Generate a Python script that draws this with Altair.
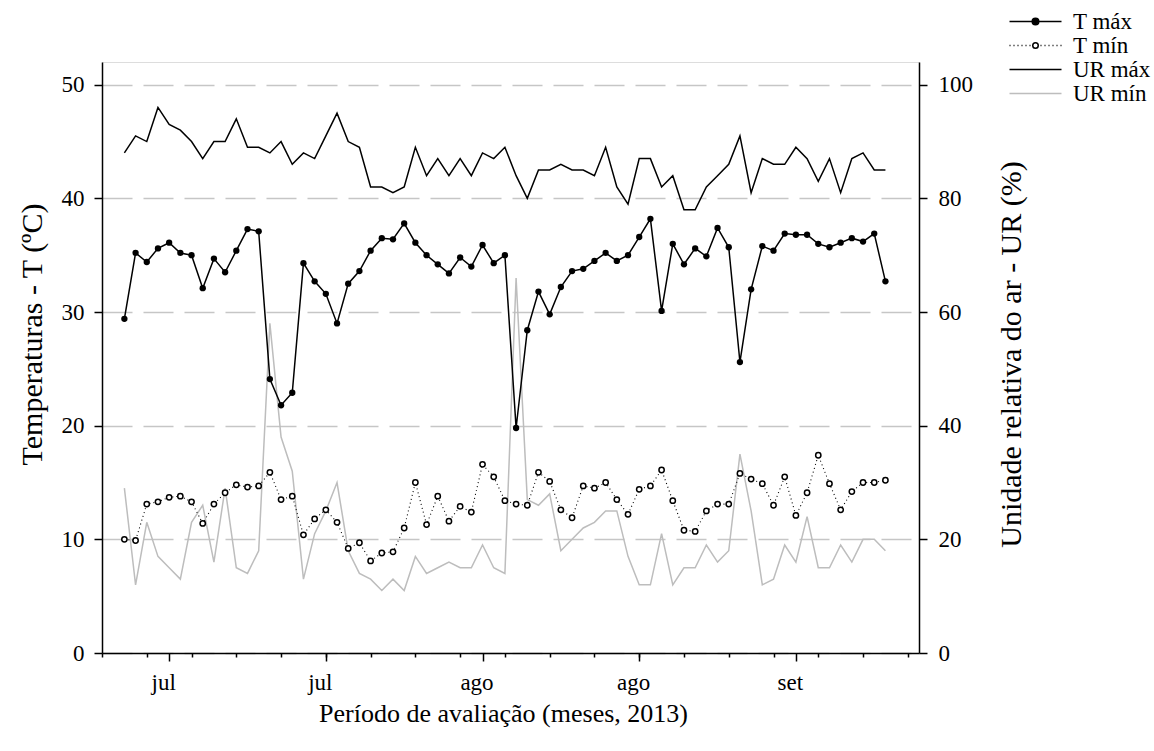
import altair as alt
import pandas as pd

# ---------------- data ----------------
start_date = "2013-07-03"          # first daily reading
origin_date = "2013-07-01"         # left end of the x axis

t_max = [29.4, 35.2, 34.4, 35.6, 36.1, 35.2, 35.0, 32.1, 34.7, 33.5,
         35.4, 37.3, 37.1, 24.1, 21.8, 22.9, 34.3, 32.7, 31.6, 29.0,
         32.5, 33.6, 35.4, 36.5, 36.4, 37.8, 36.1, 35.0, 34.2, 33.4,
         34.8, 34.0, 35.9, 34.3, 35.0, 19.8, 28.4, 31.8, 29.8, 32.2,
         33.6, 33.8, 34.5, 35.2, 34.5, 35.0, 36.6, 38.2, 30.1, 36.0,
         34.2, 35.6, 34.9, 37.4, 35.7, 25.6, 32.0, 35.8, 35.4, 36.9,
         36.8, 36.8, 36.0, 35.7, 36.1, 36.5, 36.2, 36.9, 32.7]

t_min = [10.0, 9.9, 13.1, 13.3, 13.7, 13.8, 13.3, 11.4, 13.1, 14.1,
         14.8, 14.6, 14.7, 15.9, 13.5, 13.8, 10.4, 11.8, 12.6, 11.5,
         9.2, 9.7, 8.1, 8.8, 8.9, 11.0, 15.0, 11.3, 13.8, 11.6,
         12.9, 12.4, 16.6, 15.5, 13.4, 13.1, 13.0, 15.9, 15.1, 12.6,
         11.9, 14.7, 14.5, 15.0, 13.5, 12.2, 14.4, 14.7, 16.1, 13.4,
         10.8, 10.7, 12.5, 13.1, 13.1, 15.8, 15.3, 14.9, 13.0, 15.5,
         12.1, 14.1, 17.4, 14.9, 12.6, 14.2, 15.0, 15.0, 15.2]

ur_max = [88, 91, 90, 96, 93, 92, 90, 87, 90, 90,
          94, 89, 89, 88, 90, 86, 88, 87, 91, 95,
          90, 89, 82, 82, 81, 82, 89, 84, 87, 84,
          87, 84, 88, 87, 89, 84, 80, 85, 85, 86,
          85, 85, 84, 89, 82, 79, 87, 87, 82, 84,
          78, 78, 82, 84, 86, 91, 81, 87, 86, 86,
          89, 87, 83, 87, 81, 87, 88, 85, 85]

ur_min = [29, 12, 23, 17, 15, 13, 23, 26, 16, 29,
          15, 14, 18, 58, 38, 32, 13, 21, 25, 30,
          18, 14, 13, 11, 13, 11, 17, 14, 15, 16,
          15, 15, 19, 15, 14, 66, 27, 26, 28, 18,
          20, 22, 23, 25, 25, 17, 12, 12, 21, 12,
          15, 15, 19, 16, 18, 35, 25, 12, 13, 19,
          16, 24, 15, 15, 19, 16, 20, 20, 18]

month_tick_days = [6, 20, 34, 48, 62]          # days after origin_date
month_tick_labels = ["jul", "jul", "ago", "ago", "set"]
minor_tick_days = [0, 2, 4, 6, 8, 10, 12, 14, 16, 18, 20, 22, 24, 26, 28, 30, 32, 34, 36,
                   38, 40, 42, 44, 46, 48, 50, 52, 54, 56, 58, 60, 62, 64, 66, 68, 70, 72]
temp_ticks = [0, 10, 20, 30, 40, 50]
ur_ticks = [0, 20, 40, 60, 80, 100]
series_names = ["T máx", "T mín", "UR máx", "UR mín"]

# ---------------- table ----------------
dates = pd.date_range(start_date, periods=len(t_max), freq="D")
days = (dates - pd.Timestamp(origin_date)).days
df = pd.DataFrame({"day": days, "tmax": t_max, "tmin": t_min,
                   "urmax": ur_max, "urmin": ur_min})
legend_df = pd.DataFrame({"series": series_names,
                          "day": [None] * 4, "tmax": [None] * 4})

FONT = "Liberation Serif"
GRAY = "#bdbdbd"
TICK_FS = 23
XTITLE_FS = 26
YTITLE_FS = 30

x_scale = alt.Scale(domain=[0, 73], nice=False, zero=False)
t_scale = alt.Scale(domain=[0, 52], nice=False, zero=False)
ur_scale = alt.Scale(domain=[0, 104], nice=False, zero=False)

label_expr = " : ".join(
    f"datum.value == {d} ? '{l}'" for d, l in zip(month_tick_days, month_tick_labels)
) + " : ''"

x_minor = alt.X("day:Q", scale=x_scale, axis=alt.Axis(
    orient="bottom", values=minor_tick_days, labels=False, title=None, grid=False,
    tickSize=4, tickWidth=1.5, tickColor="black",
    domain=True, domainColor="black", domainWidth=1.5))

x_major = alt.X("day:Q", scale=x_scale, axis=alt.Axis(
    orient="bottom", values=month_tick_days, labelExpr=label_expr, grid=False,
    tickSize=8, tickWidth=1.5, tickColor="black", domain=False,
    labelFont=FONT, labelFontSize=TICK_FS, labelColor="black", labelPadding=10,
    labelOffset=-6, labelOverlap=False, labelFlush=False, labelBound=False,
    title="Período de avaliação (meses, 2013)", titleFont=FONT, titleFontSize=XTITLE_FS,
    titleFontWeight="normal", titleColor="black", titleX=401, titleY=60,
    titleBaseline="middle", titleAlign="center"))

y_t = alt.Y("tmax:Q", scale=t_scale, axis=alt.Axis(
    orient="left", values=temp_ticks, grid=True, gridDash=[30, 11], gridColor="#c6c6c6",
    gridWidth=1.5, tickSize=8, tickWidth=1.5, tickColor="black",
    domain=True, domainColor="black", domainWidth=1.5,
    labelFont=FONT, labelFontSize=TICK_FS, labelColor="black", labelPadding=10,
    title="Temperaturas - T (ºC)", titleFont=FONT, titleFontSize=YTITLE_FS,
    titleFontWeight="normal", titleColor="black", titleAngle=270,
    titleX=-70, titleY=272, titleBaseline="middle", titleAlign="center"))

y_ur = alt.Y("urmin:Q", scale=ur_scale, axis=alt.Axis(
    orient="right", values=ur_ticks, grid=False, tickSize=8, tickWidth=1.5,
    tickColor="black", domain=True, domainColor="black", domainWidth=1.5,
    labelFont=FONT, labelFontSize=TICK_FS, labelColor="black", labelPadding=11,
    title="Unidade relativa do ar - UR (%)", titleFont=FONT, titleFontSize=YTITLE_FS,
    titleFontWeight="normal", titleColor="black", titleAngle=270,
    titleX=92, titleY=292, titleBaseline="middle", titleAlign="center"))

base = alt.Chart(df)

# ---- relative humidity (right axis) ----
ur_min_line = base.mark_line(color=GRAY, strokeWidth=1.5).encode(x=x_major, y=y_ur)
ur_max_line = base.mark_line(color="black", strokeWidth=1.5).encode(
    x=alt.X("day:Q", scale=x_scale), y=alt.Y("urmax:Q", scale=ur_scale))
ur_group = alt.layer(ur_min_line, ur_max_line)

# ---- temperatures (left axis) ----
tmin_line = base.mark_line(color="black", strokeWidth=1.1, strokeDash=[1, 3]).encode(
    x=x_minor, y=alt.Y("tmin:Q", scale=t_scale))
tmin_pts = base.mark_point(shape="circle", size=28, filled=True, fill="white",
                           stroke="black", strokeWidth=1.5, opacity=1).encode(
    x=alt.X("day:Q", scale=x_scale), y=alt.Y("tmin:Q", scale=t_scale))
tmax_line = base.mark_line(color="black", strokeWidth=1.5).encode(
    x=alt.X("day:Q", scale=x_scale), y=y_t)
tmax_pts = base.mark_point(shape="circle", size=40, filled=True, color="black",
                           opacity=1).encode(
    x=alt.X("day:Q", scale=x_scale), y=alt.Y("tmax:Q", scale=t_scale))

# legend symbols (line + marker); unit = 5 px, line spans 52 px
def circle(r):
    return f"M{r},0A{r},{r},0,1,1,{-r},0A{r},{r},0,1,1,{r},0Z"

def dots(a, b, step):
    out, v = [], a
    while v <= b + 1e-9:
        out.append(f"M{v:.2f},0h0.2")
        v += step
    return "".join(out)

legend_shapes = [
    "M-5.2,0H5.2" + circle(0.66),
    dots(-5.2, -1.0, 0.8) + dots(1.0, 5.2, 0.8) + circle(0.55),
    "M-5.2,0H5.2",
    "M-5.2,0H5.2",
]
leg = alt.Legend(orient="none", legendX=922, legendY=-52, title=None,
                 symbolSize=100, symbolStrokeWidth=1.5, labelFont=FONT,
                 labelFontSize=TICK_FS, labelColor="black", labelOffset=26,
                 rowPadding=-2.4, padding=0, labelLimit=300)
legend_layer = alt.Chart(legend_df).mark_point(filled=True, opacity=1).encode(
    x=alt.X("day:Q", scale=x_scale),
    y=alt.Y("tmax:Q", scale=t_scale),
    shape=alt.Shape("series:N", legend=leg,
                    scale=alt.Scale(domain=series_names, range=legend_shapes)),
    stroke=alt.Stroke("series:N", legend=leg,
                      scale=alt.Scale(domain=series_names,
                                      range=["black", "black", "black", GRAY])),
    fill=alt.Fill("series:N", legend=leg,
                  scale=alt.Scale(domain=series_names,
                                  range=["black", "white", "transparent", "transparent"])),
)

t_group = alt.layer(tmin_line, tmin_pts, tmax_line, tmax_pts, legend_layer)

chart = alt.layer(ur_group, t_group).resolve_scale(
    y="independent").resolve_axis(x="independent", y="independent").properties(
    width=817, height=591,
    autosize=alt.AutoSizeParams(type="none"),
    padding={"left": 102, "top": 62, "right": 235, "bottom": 98},
).configure_view(stroke="black", strokeWidth=1.5).configure(background="white")

chart.save("out.html", embed_options={"renderer": "svg", "actions": False})
